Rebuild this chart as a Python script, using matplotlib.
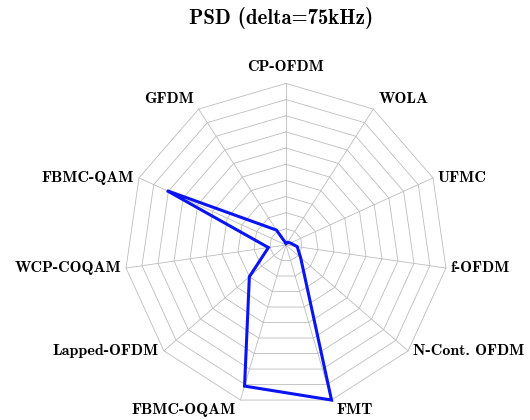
import numpy as np
import matplotlib
matplotlib.use("Agg")
import matplotlib.pyplot as plt

# Waveforms around the radar, clockwise from the top
categories = ["CP-OFDM", "WOLA", "UFMC", "f-OFDM", "N-Cont. OFDM", "FMT",
              "FBMC-OQAM", "Lapped-OFDM", "WCP-COQAM", "FBMC-QAM", "GFDM"]
# Normalised PSD score per waveform (0 = centre, 1 = outer ring)
psd_values = [0.01, 0.02, 0.03, 0.07, 0.12, 1.00, 0.91, 0.30, 0.11, 0.81, 0.11]
ring_levels = np.linspace(0.1, 1.0, 10)

TITLE = "PSD (delta=75kHz)"
FONT = ["cmb10", "DejaVu Serif"]
plt.rcParams["axes.formatter.use_mathtext"] = True

n = len(categories)
theta = np.arange(n) * 2 * np.pi / n
sx, sy = np.sin(theta), np.cos(theta)


def closed(r):
    """x/y of the closed polygon with radius r on every spoke."""
    x, y = r * sx, r * sy
    return np.append(x, x[0]), np.append(y, y[0])


fig = plt.figure(figsize=(5.3, 4.2), dpi=100)
ax = fig.add_axes([0.2347, 0.0319, 0.6098, 0.7695])
ax.set_xlim(-1, 1)
ax.set_ylim(-1, 1)
ax.set_aspect("equal")
ax.axis("off")

grid_kw = dict(color="#bdbdbd", lw=0.6, zorder=1)
for r in ring_levels:
    ax.plot(*closed(r), **grid_kw)
for x, y in zip(sx, sy):
    ax.plot([0, x], [0, y], **grid_kw)

ax.plot(*closed(np.array(psd_values)), color="#0a14f0", lw=2.2, zorder=3,
        solid_joinstyle="miter")

# label anchors: top/bottom spokes sit above/below, side spokes beside
for name, x, y in zip(categories, sx, sy):
    if abs(x) < 0.05:
        ha = "center"
    else:
        ha = "left" if x > 0 else "right"
    if y > 0.8:
        va = "bottom"
    elif y < -0.8:
        va = "top"
    else:
        va = "center"
    dx = 0.03 * np.sign(x) if ha != "center" else 0
    dy = 0.06 if (va == "bottom" and ha == "center") else (
        0.02 if va == "bottom" else (-0.02 if va == "top" else 0))
    ax.text(x + dx, y + dy, name, ha=ha, va=va, fontsize=11.5,
            family=FONT, clip_on=False)

fig.text(0.53, 0.957, TITLE, ha="center", va="center", fontsize=15,
         family=FONT)

fig.savefig("out.png", dpi=100)
